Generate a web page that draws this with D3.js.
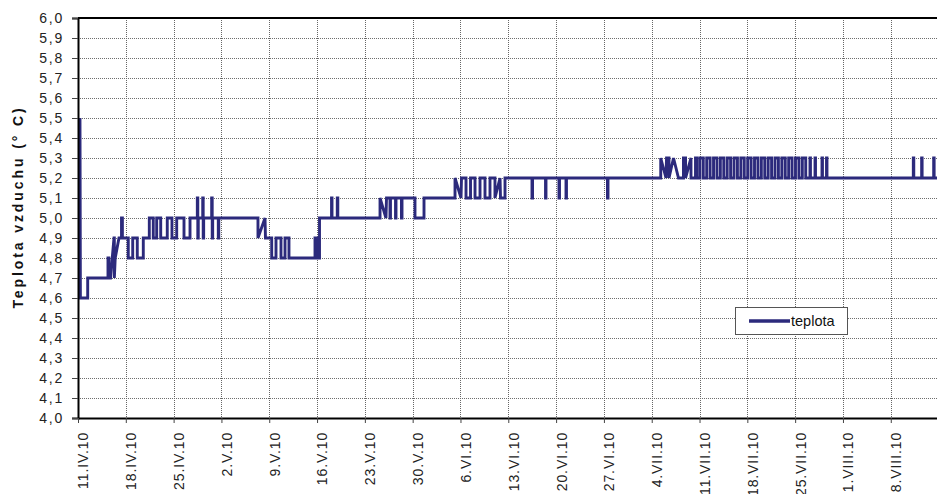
<!DOCTYPE html>
<html>
<head>
<meta charset="utf-8">
<script src="https://cdn.jsdelivr.net/npm/d3@7/dist/d3.min.js"></script>
<style>
  html, body { margin: 0; padding: 0; background: #fff; }
  svg { display: block; font-family: "Liberation Sans", Arial, sans-serif; }
</style>
</head>
<body>
<svg id="chart" width="937" height="494"></svg>
<script>
// Logger readings: [day of month (fractional), air temperature °C], one list per month of 2010
const aprilReadings = [
  [11.29,5.5],[11.35,4.6],[12.42,4.6],[12.42,4.7],[15.39,4.7],[15.39,4.8],[15.52,4.8],[15.52,4.7],
  [15.76,4.7],[16.27,4.9],[16.32,4.9],[16.32,4.7],[16.45,4.8],[17.0,4.9],[17.37,4.9],[17.37,5.0],
  [17.5,5.0],[17.5,4.9],[18.36,4.9],[18.36,4.8],[19.01,4.8],[19.01,4.9],[19.68,4.9],[19.68,4.8],
  [20.56,4.8],[20.56,4.9],[21.44,4.9],[21.44,5.0],[22.02,5.0],[22.02,4.9],[22.52,4.9],[22.52,5.0],
  [23.11,5.0],[23.11,4.9],[24.07,4.9],[24.07,5.0],[24.76,5.0],[24.76,4.9],[25.45,4.9],[25.45,5.0],
  [26.52,5.0],[26.52,4.9],[27.4,4.9],[27.4,5.0],[28.47,5.0],[28.47,5.1],[28.54,5.1],[28.54,4.9],
  [28.61,4.9],[28.61,5.0],[29.26,5.0],[29.26,5.1],[29.33,5.1],[29.33,4.9],[29.4,4.9],[29.4,5.0],
  [30.57,5.0],[30.57,5.1],[30.65,5.1],[30.65,4.9],[30.72,4.9],[30.72,5.0]
];
const mayReadings = [
  [1.54,5.0],[1.54,4.9],[1.61,4.9],[1.61,5.0],[7.35,5.0],[7.35,4.9],[8.38,5.0],[8.45,4.9],
  [9.36,4.9],[9.36,4.8],[9.99,4.8],[9.99,4.9],[10.72,4.9],[10.72,4.8],[11.31,4.8],[11.31,4.9],
  [11.89,4.9],[11.89,4.8],[15.7,4.8],[15.7,4.9],[16.07,4.9],[16.07,4.8],[16.36,4.8],[16.36,5.0],
  [18.12,5.0],[18.12,5.1],[18.19,5.1],[18.19,5.0],[18.96,5.0],[18.96,5.1],[19.04,5.1],[19.04,5.0],
  [25.22,5.0],[25.22,5.1],[26.09,5.0],[26.17,5.1],[26.68,5.1],[26.68,5.0],[26.75,5.0],[26.75,5.1],
  [27.49,5.1],[27.49,5.0],[27.56,5.0],[27.56,5.1],[28.36,5.1],[28.36,5.0],[28.44,5.0],[28.44,5.1],
  [30.34,5.1],[30.34,5.0],[31.66,5.0],[31.66,5.1]
];
const juneReadings = [
  [5.2,5.1],[5.2,5.2],[6.08,5.1],[6.15,5.2],[6.81,5.2],[6.81,5.1],[7.47,5.1],[7.47,5.2],
  [8.13,5.2],[8.13,5.1],[8.86,5.1],[8.86,5.2],[9.59,5.2],[9.59,5.1],[10.32,5.1],[10.32,5.2],
  [11.05,5.2],[11.05,5.1],[11.79,5.2],[11.86,5.1],[12.52,5.1],[12.52,5.2],[16.47,5.2],[16.47,5.1],
  [16.55,5.1],[16.55,5.2],[18.45,5.2],[18.45,5.1],[18.52,5.1],[18.52,5.2],[20.42,5.2],[20.42,5.1],
  [20.5,5.1],[20.5,5.2],[21.45,5.2],[21.45,5.1],[21.52,5.1],[21.52,5.2],[27.52,5.2],[27.52,5.1],
  [27.6,5.1],[27.6,5.2]
];
const julyReadings = [
  [5.32,5.2],[5.32,5.3],[6.09,5.2],[6.17,5.3],[6.53,5.3],[6.53,5.2],[7.19,5.3],[7.92,5.2],
  [8.65,5.2],[8.65,5.3],[8.95,5.3],[8.95,5.2],[9.75,5.3],[9.75,5.2],[10.41,5.2],[10.41,5.3],
  [10.6,5.3],[10.6,5.2],
  [11.05,5.2],[11.05,5.3],[11.55,5.3],[11.55,5.2],[12.05,5.2],[12.05,5.3],[12.55,5.3],[12.55,5.2],
  [13.05,5.2],[13.05,5.3],[13.55,5.3],[13.55,5.2],[14.05,5.2],[14.05,5.3],[14.55,5.3],[14.55,5.2],
  [15.05,5.2],[15.05,5.3],[15.55,5.3],[15.55,5.2],[16.05,5.2],[16.05,5.3],[16.55,5.3],[16.55,5.2],
  [17.05,5.2],[17.05,5.3],[17.55,5.3],[17.55,5.2],[18.05,5.2],[18.05,5.3],[18.55,5.3],[18.55,5.2],
  [19.05,5.2],[19.05,5.3],[19.55,5.3],[19.55,5.2],[20.05,5.2],[20.05,5.3],[20.55,5.3],[20.55,5.2],
  [21.05,5.2],[21.05,5.3],[21.55,5.3],[21.55,5.2],[22.05,5.2],[22.05,5.3],[22.55,5.3],[22.55,5.2],
  [23.05,5.2],[23.05,5.3],[23.55,5.3],[23.55,5.2],[24.05,5.2],[24.05,5.3],[24.55,5.3],[24.55,5.2],
  [25.05,5.2],[25.05,5.3],[25.55,5.3],[25.55,5.2],[26.05,5.2],[26.05,5.3],[26.55,5.3],[26.55,5.2],
  [27.17,5.2],[27.17,5.3],[27.24,5.3],[27.24,5.2],[27.91,5.2],[27.91,5.3],[27.98,5.3],[27.98,5.2],
  [28.93,5.2],[28.93,5.3],[29.0,5.3],[29.0,5.2],[29.59,5.2],[29.59,5.3],[29.66,5.3],[29.66,5.2]
];
const augustReadings = [
  [11.3,5.2],[11.3,5.3],[11.37,5.3],[11.37,5.2],[12.52,5.2],[12.52,5.3],[12.59,5.3],[12.59,5.2],
  [14.28,5.2],[14.28,5.3],[14.35,5.3],[14.35,5.2],[16.0,5.2]
];

const monthNumerals = ["I","II","III","IV","V","VI","VII","VIII","IX","X","XI","XII"];
const seriesName = "teplota";
const yTitle = "Teplota vzduchu (° C)";

// Turn (month, fractional day) into a timestamp
function toDate(monthIndex, day) {
  const base = new Date(2010, monthIndex, 1).getTime();
  return new Date(base + (day - 1) * 86400000);
}
const readings = [
  ...aprilReadings.map(r => ({ t: toDate(3, r[0]), v: r[1] })),
  ...mayReadings.map(r => ({ t: toDate(4, r[0]), v: r[1] })),
  ...juneReadings.map(r => ({ t: toDate(5, r[0]), v: r[1] })),
  ...julyReadings.map(r => ({ t: toDate(6, r[0]), v: r[1] })),
  ...augustReadings.map(r => ({ t: toDate(7, r[0]), v: r[1] }))
];

const plotLeft = 78, plotTop = 18, plotBottom = 418;
const startDate = new Date(2010, 3, 11), endDate = new Date(2010, 7, 15);
const plotRight = plotLeft + 126 * 6.83;
const lineColor = "#2c2a7c";

const x = d3.scaleTime().domain([startDate, endDate]).range([plotLeft, plotRight]);
const y = d3.scaleLinear().domain([4.0, 6.0]).range([plotBottom, plotTop]);

const svg = d3.select("#chart");
const czFormat = d3.formatLocale({ decimal: ",", thousands: " ", grouping: [3], currency: ["", ""] }).format(".1f");

const yTicks = d3.range(40, 61).map(v => v / 10);
const xTicks = d3.timeSunday.range(startDate, endDate);

// dotted grid
const grid = svg.append("g");
grid.selectAll("line.h").data(yTicks).join("line")
  .attr("x1", plotLeft).attr("x2", plotRight)
  .attr("y1", d => Math.round(y(d)) + 0.5).attr("y2", d => Math.round(y(d)) + 0.5)
  .attr("stroke", "#6e6e6e").attr("stroke-width", 1).attr("stroke-dasharray", "1,1");
grid.selectAll("line.v").data(xTicks).join("line")
  .attr("x1", d => Math.round(x(d)) + 0.5).attr("x2", d => Math.round(x(d)) + 0.5)
  .attr("y1", plotTop).attr("y2", plotBottom)
  .attr("stroke", "#666").attr("stroke-width", 1).attr("stroke-dasharray", "1,1");

// temperature line
svg.append("defs").append("clipPath").attr("id", "plotClip")
  .append("rect").attr("x", plotLeft).attr("y", plotTop - 5)
  .attr("width", plotRight - plotLeft).attr("height", plotBottom - plotTop + 10);
svg.append("path")
  .datum(readings)
  .attr("clip-path", "url(#plotClip)")
  .attr("fill", "none")
  .attr("stroke", lineColor)
  .attr("stroke-width", 2.9)
  .attr("stroke-linejoin", "miter")
  .attr("d", d3.line().x(d => x(d.t)).y(d => y(d.v)));

// frame: top border and axes
svg.append("line").attr("x1", plotLeft).attr("x2", plotRight).attr("y1", plotTop).attr("y2", plotTop)
  .attr("stroke", "#000").attr("stroke-width", 2);

const yAxis = svg.append("g").attr("transform", `translate(${plotLeft},0)`)
  .call(d3.axisLeft(y).tickValues(yTicks).tickSize(6).tickPadding(8).tickFormat(czFormat));
yAxis.select(".domain").attr("stroke-width", 2);
yAxis.selectAll(".tick line").attr("stroke", "#444");
yAxis.selectAll(".tick text")
  .attr("font-size", 14).attr("fill", "#222").attr("letter-spacing", "1.8px")
  .attr("font-family", "Liberation Sans, Arial, sans-serif");

const xAxis = svg.append("g").attr("transform", `translate(0,${plotBottom})`)
  .call(d3.axisBottom(x).tickValues(xTicks).tickSize(5).tickSizeOuter(0)
    .tickFormat(d => `${d.getDate()}.${monthNumerals[d.getMonth()]}.10`));
xAxis.select(".domain").attr("stroke-width", 2);
xAxis.selectAll(".tick line").attr("stroke", "#444");
xAxis.selectAll(".tick text")
  .attr("font-size", 14).attr("fill", "#222").attr("letter-spacing", "0.9px")
  .attr("font-family", "Liberation Sans, Arial, sans-serif")
  .attr("text-anchor", "end")
  .attr("transform", "translate(5,13.9) rotate(-90)")
  .attr("x", 0).attr("y", 0).attr("dy", "0.35em");

// axis title
svg.append("text")
  .attr("transform", `translate(18,${(plotTop + plotBottom) / 2 - 11}) rotate(-90)`)
  .attr("text-anchor", "middle").attr("dy", "0.35em")
  .attr("font-size", 14).attr("font-weight", "bold").attr("letter-spacing", "2.9px")
  .attr("fill", "#111")
  .text(yTitle);

// legend
const legend = svg.append("g");
legend.append("rect").attr("x", 735.5).attr("y", 307.5).attr("width", 112).attr("height", 27)
  .attr("fill", "#fff").attr("stroke", "#555").attr("stroke-width", 1);
legend.append("line").attr("x1", 749).attr("x2", 790).attr("y1", 321).attr("y2", 321)
  .attr("stroke", lineColor).attr("stroke-width", 3.3);
legend.append("text").attr("x", 791).attr("y", 321).attr("dy", "0.35em")
  .attr("font-size", 14.5).attr("fill", "#111").text(seriesName);
</script>
</body>
</html>
